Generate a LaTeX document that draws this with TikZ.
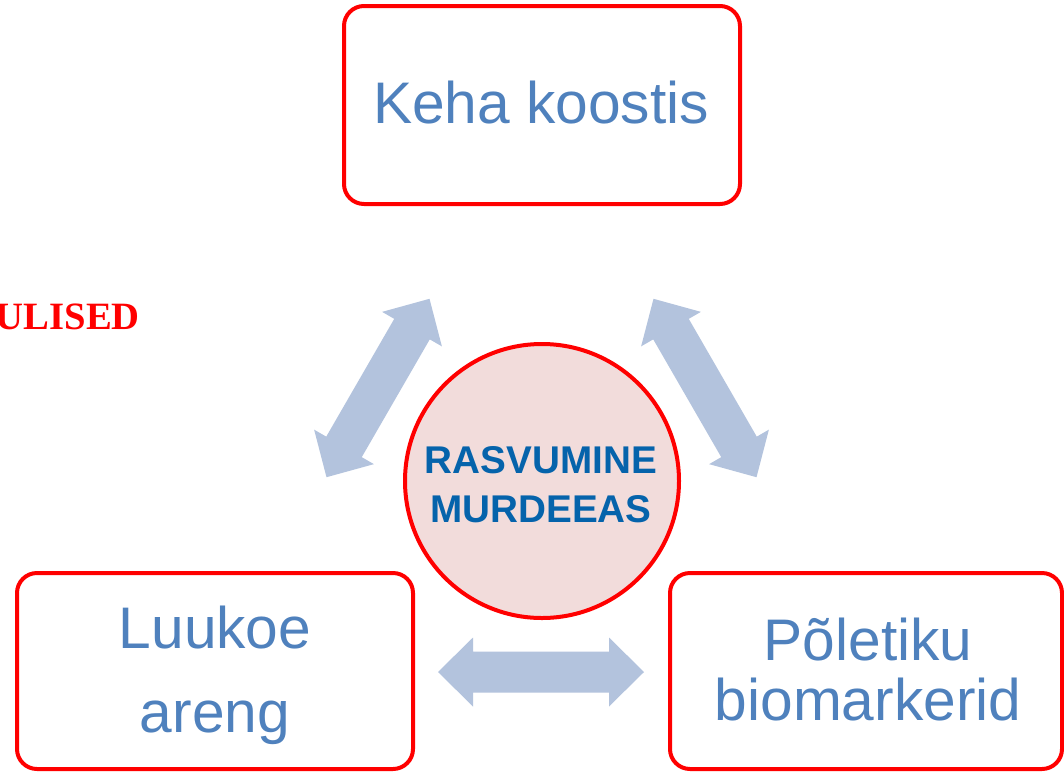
\documentclass[tikz,border=0pt]{standalone}
\usepackage{fontspec}
\setmainfont{Liberation Sans}
\newfontfamily\serifbold{Liberation Serif}
\definecolor{boxred}{HTML}{FF0000}
\definecolor{txtblue}{HTML}{4F81BD}
\definecolor{darkblue}{HTML}{0563AB}
\definecolor{circfill}{HTML}{F2DCDB}
\definecolor{arrowblue}{HTML}{B3C3DD}
\tikzset{
  box/.style={draw=boxred, line width=3pt, rounded corners=15pt, fill=white, inner sep=0pt},
  hub/.style={circle, draw=boxred, line width=3pt, fill=circfill, inner sep=0pt, minimum size=205.5pt},
  bigtxt/.style={text=txtblue, font=\fontsize{44}{50}\selectfont, inner sep=0pt, anchor=base},
  hubtxt/.style={text=darkblue, font=\fontsize{29}{34}\selectfont\bfseries, inner sep=0pt, anchor=base},
  dblarrow/.pic={
    \fill[arrowblue] (-103,0) -- (-68,34.5) -- (-68,20.5) -- (68,20.5) -- (68,34.5)
      -- (103,0) -- (68,-34.5) -- (68,-20.5) -- (-68,-20.5) -- (-68,-34.5) -- cycle;
  }
}
\begin{document}
\begin{tikzpicture}[x=0.75pt, y=-0.75pt]
\useasboundingbox (0,0) rectangle (1064,772);
\fill[white] (0,0) rectangle (1064,772);

% boxes
\node[box, minimum width=297pt, minimum height=148.5pt] (top) at (542,105) {};
\node[box, minimum width=297pt, minimum height=147pt] (left) at (215,671) {};
\node[box, minimum width=294pt, minimum height=147pt] (right) at (866,671) {};
\node[hub] (hub) at (542,481) {};

% texts
\node[bigtxt] (t1) at (541,123) {Keha koostis};
\node[bigtxt] (l1) at (215,648) {Luukoe};
\node[bigtxt] (l2) at (215,732) {areng};
\node[bigtxt] (r1) at (868,660) {Põletiku};
\node[bigtxt] (r2) at (868,720) {biomarkerid};
\node[hubtxt] (h1) at (541,473) {RASVUMINE};
\node[hubtxt] (h2) at (541,522) {MURDEEAS};

\node[text=boxred, font=\serifbold\fontsize{29}{34}\selectfont\bfseries, inner sep=0pt, anchor=base east] (ul) at (140,329) {ULISED};

% double arrows
\pic at (541,672) {dblarrow};
\pic[rotate=60] at (378,388) {dblarrow};
\pic[rotate=-60] at (705,388) {dblarrow};
\end{tikzpicture}
\end{document}
